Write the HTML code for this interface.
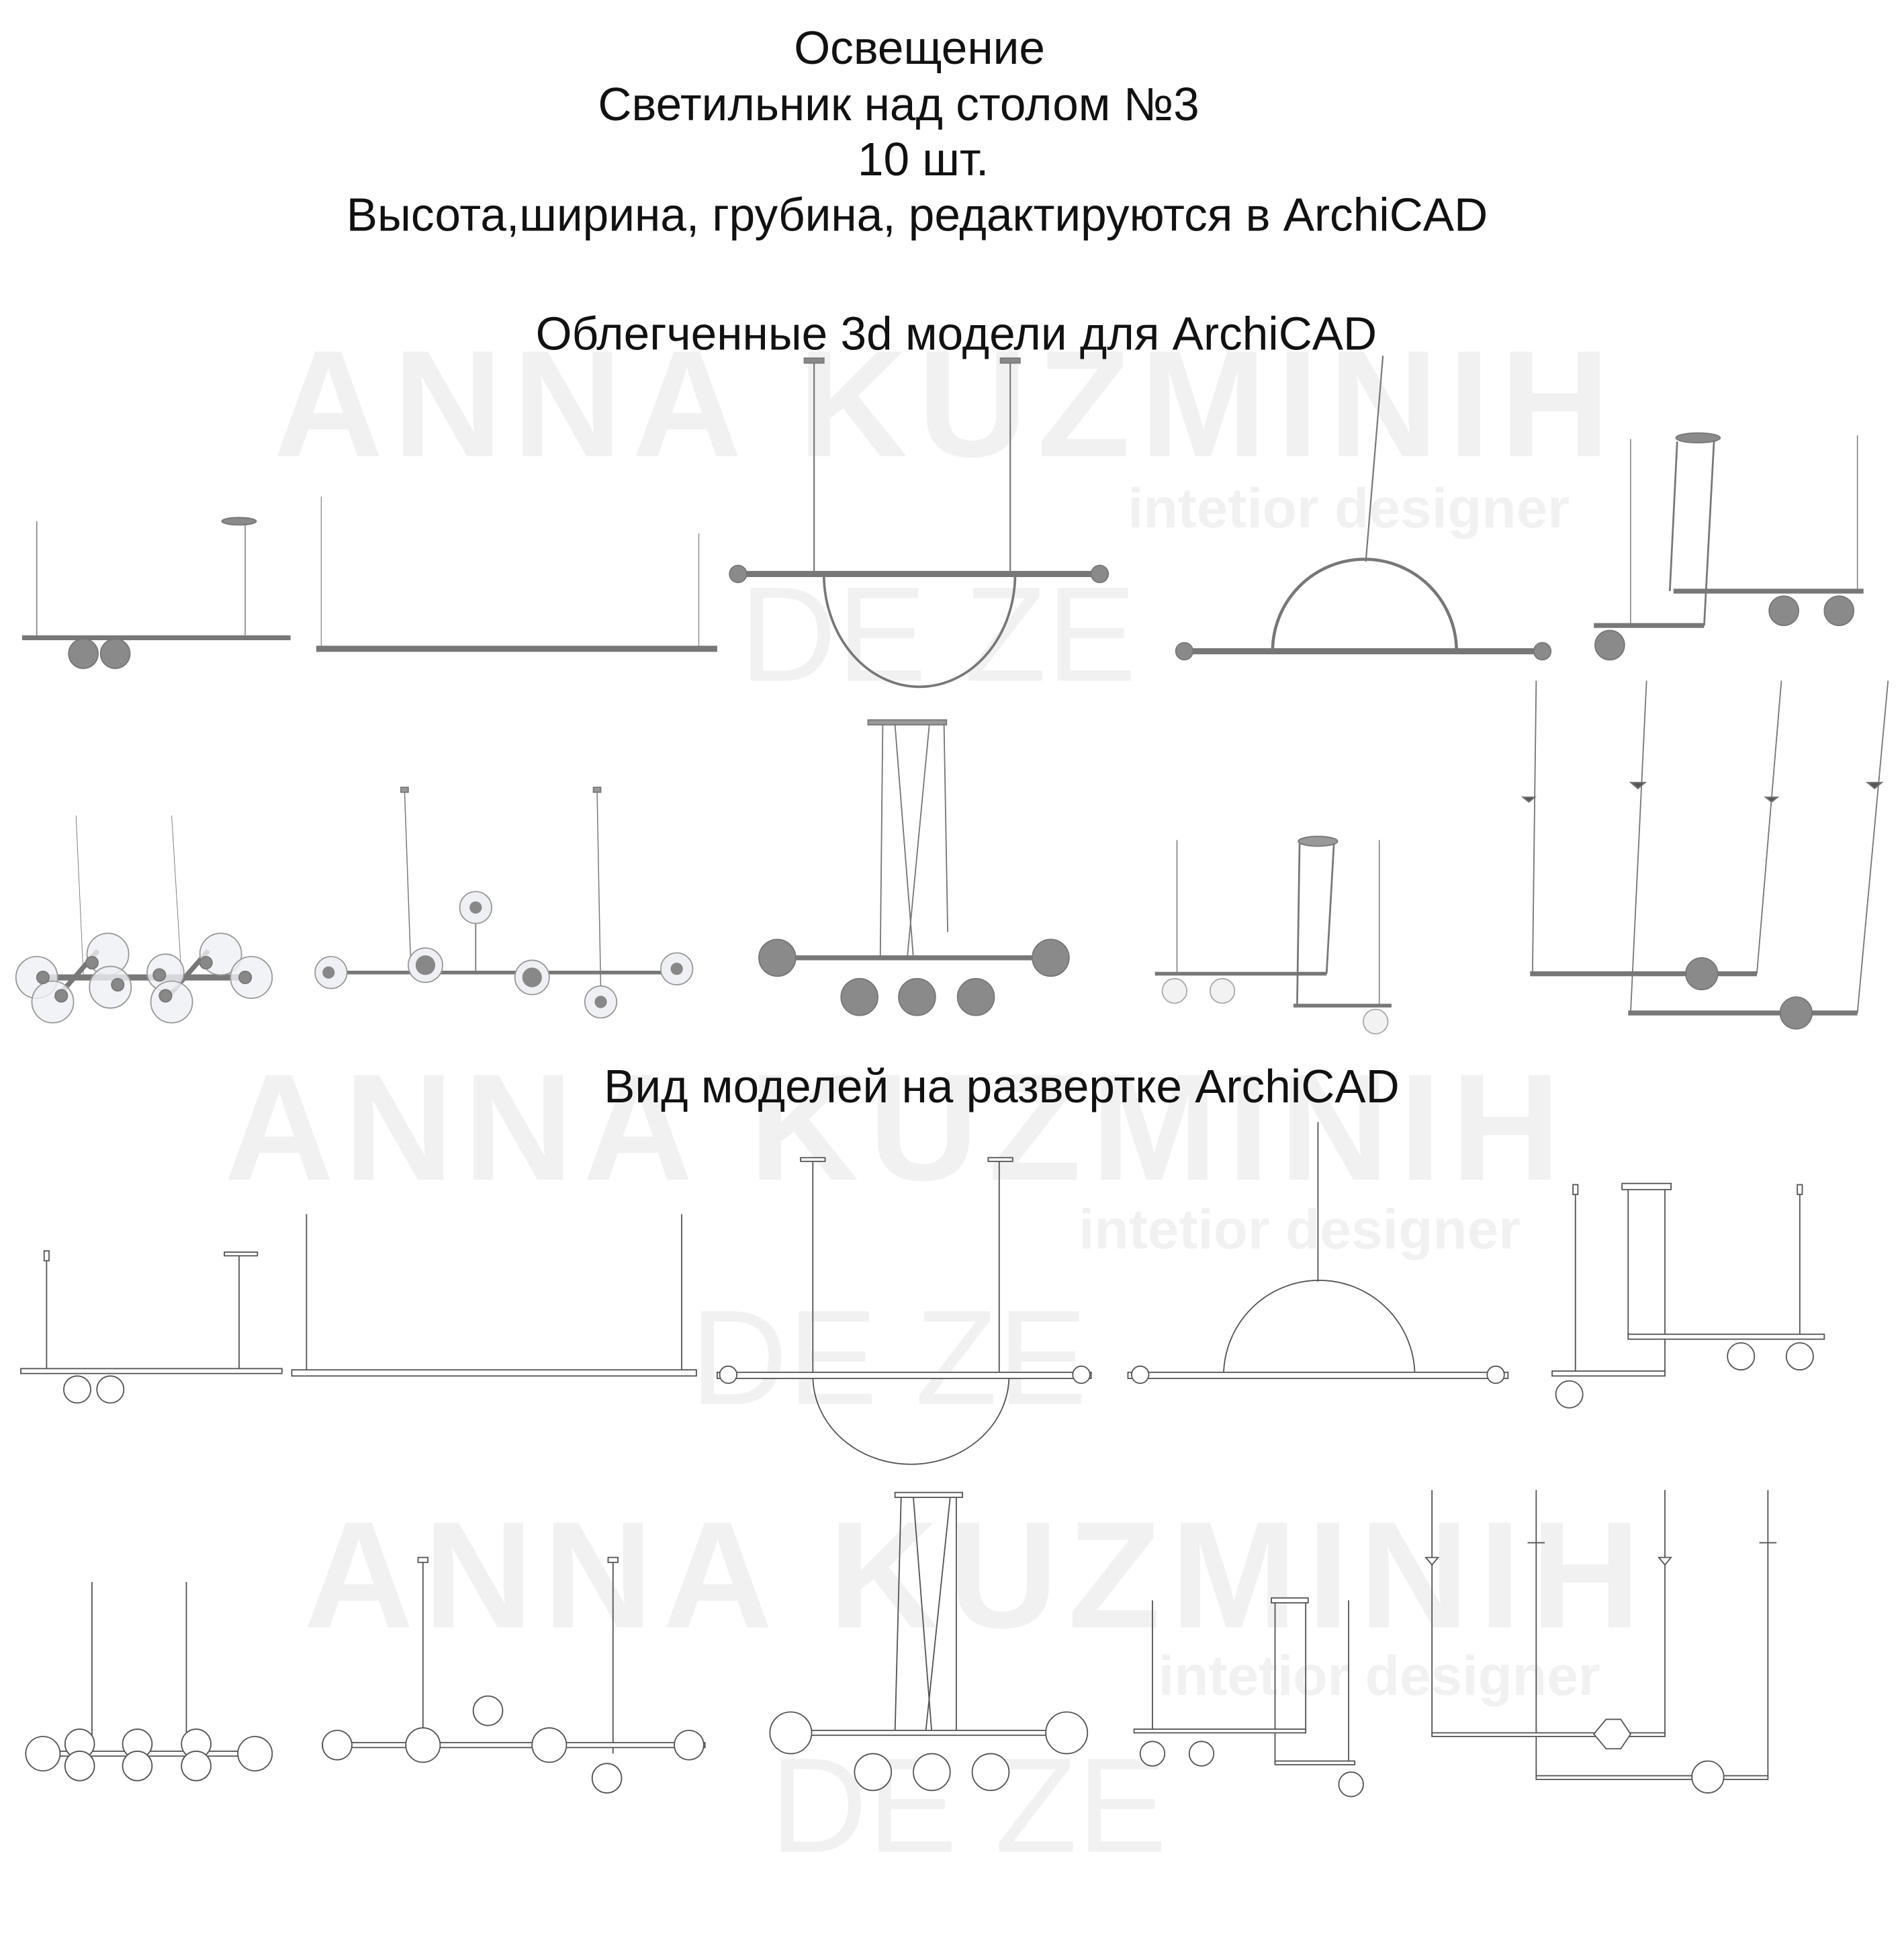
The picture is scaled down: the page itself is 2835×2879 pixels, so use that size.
<!DOCTYPE html>
<html><head><meta charset="utf-8"><style>
html,body{margin:0;padding:0;background:#fff;}
svg{display:block;}
</style></head><body>
<svg xmlns="http://www.w3.org/2000/svg" width="2835" height="2879" viewBox="0 0 1553 1577">
<rect width="1553" height="1577" fill="#fff"/>
<g font-family="Liberation Sans, sans-serif" font-weight="bold" fill="#f1f1f1">
<text x="772" y="372" font-size="124" text-anchor="middle" letter-spacing="8">ANNA KUZMINIH</text>
<text x="1100" y="430" font-size="46" text-anchor="middle">intetior designer</text>
<text x="765" y="555" font-size="110" text-anchor="middle" font-weight="normal">DE ZE</text>
<text x="732" y="962" font-size="124" text-anchor="middle" letter-spacing="8">ANNA KUZMINIH</text>
<text x="1060" y="1018" font-size="46" text-anchor="middle">intetior designer</text>
<text x="725" y="1145" font-size="110" text-anchor="middle" font-weight="normal">DE ZE</text>
<text x="797" y="1327" font-size="124" text-anchor="middle" letter-spacing="8">ANNA KUZMINIH</text>
<text x="1125" y="1382" font-size="46" text-anchor="middle">intetior designer</text>
<text x="790" y="1510" font-size="110" text-anchor="middle" font-weight="normal">DE ZE</text>
</g>
<g font-family="Liberation Sans, sans-serif" font-size="38" fill="#111" text-anchor="middle">
<text x="750" y="52">Освещение</text>
<text x="733" y="98">Светильник над столом №3</text>
<text x="753" y="143">10 шт.</text>
<text x="748" y="188">Высота,ширина, грубина, редактируются в ArchiCAD</text>
<text x="780" y="285">Облегченные 3d модели для ArchiCAD</text>
<text x="817" y="899">Вид моделей на развертке ArchiCAD</text>
</g>
<g stroke="#777" fill="#8a8a8a">
<line x1="30" y1="425" x2="30" y2="518" stroke-width="0.8"/>
<line x1="200" y1="428" x2="200" y2="518" stroke-width="0.8"/>
<ellipse cx="195" cy="425" rx="14" ry="3"/>
<line x1="18" y1="520" x2="237" y2="520" stroke-width="4"/>
<circle cx="68" cy="533" r="12"/><circle cx="94" cy="533" r="12"/>
<line x1="262" y1="405" x2="262" y2="527" stroke-width="0.6"/>
<line x1="570" y1="435" x2="570" y2="527" stroke-width="0.6"/>
<line x1="258" y1="529" x2="585" y2="529" stroke-width="5"/>
<line x1="664" y1="295" x2="664" y2="468" stroke-width="1.2"/>
<line x1="824" y1="295" x2="824" y2="468" stroke-width="1.2"/>
<rect x="656" y="292" width="16" height="4"/><rect x="816" y="292" width="16" height="4"/>
<path d="M672 468 A78 92 0 0 0 828 468" fill="none" stroke-width="2"/>
<line x1="600" y1="468" x2="900" y2="468" stroke-width="5"/>
<circle cx="602" cy="468" r="7"/><circle cx="897" cy="468" r="7"/>
<line x1="1128" y1="290" x2="1114" y2="458" stroke-width="1.2"/>
<path d="M1038 531 A75 75 0 0 1 1188 531" fill="none" stroke-width="2.5"/>
<line x1="960" y1="531" x2="1265" y2="531" stroke-width="5"/>
<circle cx="966" cy="531" r="7"/><circle cx="1258" cy="531" r="7"/>
<ellipse cx="1385" cy="357" rx="18" ry="4"/>
<line x1="1368" y1="360" x2="1362" y2="482" stroke-width="1.5"/>
<line x1="1398" y1="360" x2="1390" y2="510" stroke-width="1.5"/>
<line x1="1330" y1="358" x2="1330" y2="510" stroke-width="0.8"/>
<line x1="1515" y1="355" x2="1515" y2="482" stroke-width="0.8"/>
<line x1="1365" y1="482" x2="1520" y2="482" stroke-width="4"/>
<line x1="1300" y1="510" x2="1390" y2="510" stroke-width="4"/>
<circle cx="1313" cy="526" r="12"/><circle cx="1455" cy="498" r="12"/><circle cx="1500" cy="498" r="12"/>
</g>
<g stroke="#777">
<line x1="62" y1="665" x2="68" y2="795" stroke-width="0.5"/>
<line x1="140" y1="665" x2="148" y2="795" stroke-width="0.5"/>
<line x1="35" y1="797" x2="205" y2="797" stroke-width="5" stroke="#777"/>
<line x1="45" y1="815" x2="80" y2="775" stroke-width="4"/>
<line x1="135" y1="815" x2="170" y2="775" stroke-width="4"/>
<g fill="#eef0f4" fill-opacity="0.8" stroke="#999">
<circle cx="30" cy="797" r="17"/><circle cx="88" cy="778" r="17"/><circle cx="43" cy="817" r="17"/>
<circle cx="90" cy="805" r="17"/><circle cx="135" cy="793" r="15"/><circle cx="180" cy="778" r="17"/>
<circle cx="205" cy="797" r="17"/><circle cx="140" cy="817" r="17"/>
</g>
<g fill="#888"><circle cx="35" cy="797" r="5"/><circle cx="75" cy="785" r="5"/><circle cx="50" cy="812" r="5"/><circle cx="96" cy="803" r="5"/><circle cx="130" cy="795" r="5"/><circle cx="168" cy="785" r="5"/><circle cx="200" cy="797" r="5"/><circle cx="135" cy="812" r="5"/></g>
<line x1="330" y1="645" x2="335" y2="785" stroke-width="0.8"/>
<line x1="487" y1="645" x2="490" y2="805" stroke-width="0.8"/>
<rect x="327" y="642" width="6" height="4" fill="#999"/><rect x="484" y="642" width="6" height="4" fill="#999"/>
<line x1="258" y1="793" x2="565" y2="793" stroke-width="3"/>
<line x1="388" y1="752" x2="388" y2="793" stroke-width="1"/>
<g fill="#eef0f4" stroke="#999"><circle cx="270" cy="793" r="13"/><circle cx="347" cy="787" r="14"/><circle cx="388" cy="740" r="13"/><circle cx="434" cy="797" r="14"/><circle cx="490" cy="817" r="13"/><circle cx="552" cy="790" r="13"/></g>
<g fill="#888" stroke="none"><circle cx="268" cy="793" r="5"/><circle cx="347" cy="787" r="8"/><circle cx="388" cy="740" r="5"/><circle cx="434" cy="797" r="8"/><circle cx="490" cy="817" r="5"/><circle cx="552" cy="790" r="5"/></g>
<rect x="708" y="587" width="64" height="4" fill="#999"/>
<line x1="720" y1="591" x2="718" y2="781" stroke-width="1"/><line x1="730" y1="591" x2="745" y2="781" stroke-width="1"/>
<line x1="758" y1="591" x2="740" y2="781" stroke-width="1"/><line x1="770" y1="591" x2="773" y2="760" stroke-width="1"/>
<line x1="625" y1="781" x2="870" y2="781" stroke-width="4"/>
<g fill="#8a8a8a"><circle cx="634" cy="781" r="15"/><circle cx="857" cy="781" r="15"/><circle cx="701" cy="813" r="15"/><circle cx="748" cy="813" r="15"/><circle cx="796" cy="813" r="15"/></g>
<ellipse cx="1075" cy="686" rx="16" ry="4" fill="#999"/>
<line x1="1060" y1="688" x2="1058" y2="820" stroke-width="1.5"/><line x1="1088" y1="688" x2="1082" y2="794" stroke-width="1.5"/>
<line x1="960" y1="685" x2="960" y2="794" stroke-width="0.8"/><line x1="1125" y1="685" x2="1125" y2="820" stroke-width="0.8"/>
<line x1="942" y1="794" x2="1082" y2="794" stroke-width="3"/><line x1="1055" y1="820" x2="1135" y2="820" stroke-width="3"/>
<g fill="#f2f2f2" stroke="#aaa"><circle cx="958" cy="808" r="10"/><circle cx="997" cy="808" r="10"/><circle cx="1122" cy="833" r="10"/></g>
<g stroke-width="1"><line x1="1253" y1="555" x2="1250" y2="794"/><line x1="1343" y1="555" x2="1330" y2="826"/><line x1="1453" y1="555" x2="1433" y2="794"/><line x1="1540" y1="555" x2="1515" y2="826"/></g>
<g fill="#555"><path d="M1242 650 l10 0 l-5 4z"/><path d="M1330 638 l12 0 l-6 5z"/><path d="M1440 650 l10 0 l-5 4z"/><path d="M1523 638 l12 0 l-6 5z"/></g>
<line x1="1248" y1="794" x2="1433" y2="794" stroke-width="4"/><line x1="1328" y1="826" x2="1515" y2="826" stroke-width="4"/>
<g fill="#8a8a8a"><circle cx="1388" cy="794" r="13"/><circle cx="1465" cy="826" r="13"/></g>
</g>
<g stroke="#555" fill="#fff" stroke-width="1">
<line x1="38" y1="1022" x2="38" y2="1118"/><rect x="36" y="1020" width="4" height="8"/>
<line x1="195" y1="1024" x2="195" y2="1118"/><rect x="183" y="1021" width="27" height="3"/>
<rect x="17" y="1116" width="213" height="4"/>
<circle cx="63" cy="1133" r="11"/><circle cx="90" cy="1133" r="11"/>
<line x1="250" y1="990" x2="250" y2="1118"/><line x1="556" y1="990" x2="556" y2="1118"/>
<rect x="238" y="1117" width="330" height="5"/>
<line x1="663" y1="947" x2="663" y2="1120"/><line x1="815" y1="947" x2="815" y2="1120"/>
<rect x="653" y="944" width="20" height="3"/><rect x="806" y="944" width="20" height="3"/>
<path d="M663 1122 A80 72 0 0 0 823 1122" fill="none"/>
<rect x="585" y="1119" width="305" height="5"/><circle cx="594" cy="1121" r="7"/><circle cx="882" cy="1121" r="7"/>
<line x1="1075" y1="915" x2="1075" y2="1045"/>
<path d="M998 1122 A78 78 0 0 1 1154 1122" fill="none"/>
<rect x="920" y="1119" width="310" height="5"/><circle cx="930" cy="1121" r="7"/><circle cx="1220" cy="1121" r="7"/>
<line x1="1285" y1="968" x2="1285" y2="1120"/><rect x="1283" y="966" width="4" height="8"/>
<line x1="1468" y1="968" x2="1468" y2="1090"/><rect x="1466" y="966" width="4" height="8"/>
<rect x="1323" y="965" width="40" height="5"/>
<line x1="1328" y1="970" x2="1328" y2="1090"/><line x1="1358" y1="970" x2="1358" y2="1120"/>
<rect x="1328" y="1088" width="160" height="4"/><rect x="1266" y="1118" width="92" height="4"/>
<circle cx="1280" cy="1137" r="11"/><circle cx="1420" cy="1106" r="11"/><circle cx="1468" cy="1106" r="11"/>
</g>
<g stroke="#555" fill="#fff" stroke-width="1">
<line x1="75" y1="1290" x2="75" y2="1430"/><line x1="152" y1="1290" x2="152" y2="1430"/>
<rect x="30" y="1428" width="190" height="4"/>
<circle cx="35" cy="1430" r="14"/><circle cx="65" cy="1422" r="12"/><circle cx="65" cy="1440" r="12"/><circle cx="112" cy="1422" r="12"/><circle cx="112" cy="1440" r="12"/><circle cx="160" cy="1422" r="12"/><circle cx="160" cy="1440" r="12"/><circle cx="208" cy="1430" r="14"/>
<line x1="345" y1="1272" x2="345" y2="1420"/><rect x="341" y="1270" width="8" height="4"/>
<line x1="500" y1="1272" x2="500" y2="1430"/><rect x="496" y="1270" width="8" height="4"/>
<rect x="263" y="1421" width="312" height="4"/>
<circle cx="275" cy="1423" r="12"/><circle cx="345" cy="1423" r="14"/><circle cx="398" cy="1395" r="12"/><circle cx="448" cy="1423" r="14"/><circle cx="495" cy="1450" r="12"/><circle cx="562" cy="1423" r="12"/>
<rect x="730" y="1217" width="55" height="4"/>
<line x1="735" y1="1221" x2="730" y2="1413"/><line x1="745" y1="1221" x2="760" y2="1413"/><line x1="775" y1="1221" x2="755" y2="1413"/><line x1="780" y1="1221" x2="780" y2="1413"/>
<rect x="640" y="1411" width="230" height="4"/>
<circle cx="645" cy="1413" r="17"/><circle cx="870" cy="1413" r="17"/>
<circle cx="712" cy="1445" r="15"/><circle cx="760" cy="1445" r="15"/><circle cx="808" cy="1445" r="15"/>
<line x1="940" y1="1305" x2="940" y2="1412"/><line x1="1100" y1="1305" x2="1100" y2="1438"/>
<rect x="1037" y="1303" width="30" height="4"/>
<line x1="1040" y1="1307" x2="1040" y2="1438"/><line x1="1065" y1="1307" x2="1065" y2="1412"/>
<rect x="925" y="1410" width="140" height="3"/><rect x="1040" y="1436" width="65" height="3"/>
<circle cx="940" cy="1430" r="10"/><circle cx="980" cy="1430" r="10"/><circle cx="1102" cy="1455" r="10"/>
<line x1="1168" y1="1215" x2="1168" y2="1415"/><line x1="1253" y1="1215" x2="1253" y2="1450"/>
<line x1="1358" y1="1215" x2="1358" y2="1415"/><line x1="1442" y1="1215" x2="1442" y2="1450"/>
<path d="M1163 1270 l10 0 l-5 6z"/><path d="M1246 1258 l14 0"/><path d="M1353 1270 l10 0 l-5 6z"/><path d="M1435 1258 l14 0"/>
<rect x="1168" y="1413" width="190" height="3"/><rect x="1253" y="1448" width="189" height="3"/>
<polygon points="1300,1414 1310,1402 1322,1402 1330,1414 1322,1426 1310,1426"/>
<circle cx="1393" cy="1449" r="13"/>
</g>
</svg>
</body></html>
